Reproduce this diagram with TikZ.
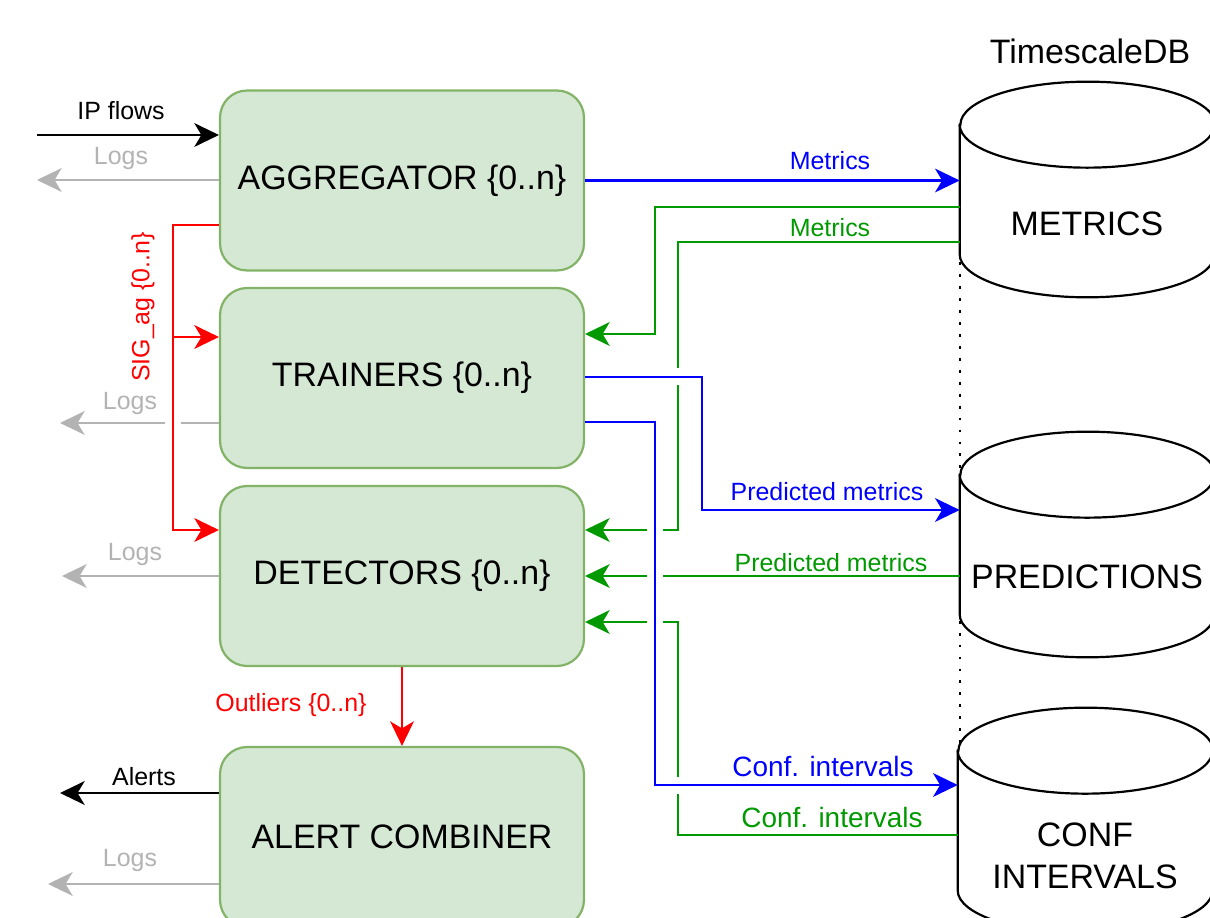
\documentclass[tikz,border=0pt]{standalone}
\usepackage{fontspec}
\setmainfont{Liberation Sans}
\usetikzlibrary{calc, positioning, arrows.meta}
\definecolor{boxfill}{HTML}{D5E8D4}
\definecolor{boxline}{HTML}{82B366}
\definecolor{flowBlue}{RGB}{0,0,255}
\definecolor{flowGreen}{RGB}{0,153,0}
\definecolor{flowRed}{RGB}{255,0,0}
\definecolor{logGrey}{RGB}{179,179,179}

\begin{document}
\begin{tikzpicture}[
  x=0.02cm, y=0.02cm,
  >={Stealth[length=14pt, width=13.5pt, inset=4pt]},
  big/.style={font=\fontsize{19.3}{23.8}\selectfont},
  lbl/.style={font=\fontsize{14.2}{17}\selectfont, inner sep=0pt},
  lblc/.style={font=\fontsize{15.9}{19}\selectfont, inner sep=0pt},
  box/.style={draw=boxline, fill=boxfill, line width=1.25pt, rounded corners=0.54cm, minimum width=7.28cm, minimum height=3.6cm, big},
  db/.style={draw, line width=1.25pt, fill=white},
  dbbox/.style={inner sep=0pt, minimum width=5.1cm, minimum height=4.5cm},
  flow/.style={line width=1.3pt, ->},
  blu/.style={flow, draw=flowBlue},
  grn/.style={flow, draw=flowGreen},
  sig/.style={flow, draw=flowRed},
  logs/.style={flow, draw=logGrey},
  blk/.style={flow, draw=black}
]
\useasboundingbox (0,0) rectangle (1210,-918);

\node[box] (agg) at (402,-180.5) {AGGREGATOR \{0..n\}};
\node[box] (trn) at (402,-378) {TRAINERS \{0..n\}};
\node[box] (det) at (402,-576) {DETECTORS \{0..n\}};
\node[box] (alc) at (402,-837) {ALERT COMBINER};

\node[dbbox, minimum height=4.3cm] (met) at (1087.5,-189.5) {};
\node[dbbox] (pre) at (1087.5,-544.5) {};
\node[dbbox] (cfi) at (1085.5,-820.5) {};
\foreach \n in {met,pre,cfi} {
  \draw[db] ($(\n.north west)+(0,-43)$) -- ($(\n.south west)+(0,43)$)
    arc[start angle=180, end angle=360, x radius=2.55cm, y radius=0.86cm]
    -- ($(\n.north east)+(0,-43)$)
    arc[start angle=0, end angle=180, x radius=2.55cm, y radius=0.86cm] -- cycle;
  \draw[db, fill=none] ($(\n.north west)+(0,-43)$)
    arc[start angle=180, end angle=360, x radius=2.55cm, y radius=0.86cm];
}
\node[big] (tsdb) at (1090,-51) {TimescaleDB};
\node[big] (metl) at (1087,-224) {METRICS};
\node[big] (prel) at (1087,-577) {PREDICTIONS};
\node[big, align=center] (cfil) at (1085,-856) {CONF\\INTERVALS};
\draw[line width=1.3pt, dash pattern=on 1.6pt off 5.2pt]
  ($(met.south west)+(0,35)$) -- ($(met.south west |- cfi.north)+(0,-37)$);

\coordinate (ipin) at (37,-135);
\coordinate (lg1) at (37,-180);
\coordinate (lg2) at (60,-423);
\coordinate (lg3) at (62,-576);
\coordinate (lg4) at (48,-884);
\coordinate (alrt) at (60,-793);
\coordinate (sigbus) at (173,-337);

\draw[grn] (met.west |- 0,-207) -| (655,-334) -- (trn.east |- 0,-334);
\draw[grn] (met.west |- 0,-242) -| (678,-530) -- (det.east |- 0,-530);
\draw[grn] (pre.west |- det.east) -- (det.east);
\draw[grn] (cfi.west |- 0,-835) -| (678,-622) -- (det.east |- 0,-622);
\foreach \b/\e in {agg/lg1, trn/lg2, det/lg3, alc/lg4}
  \draw[logs] (\b.west |- \e) -- (\e);

\foreach \cx/\cy in {655/530, 655/576, 655/622, 173/423}
  \fill[white] (\cx-8,-\cy-3) rectangle (\cx+8,-\cy+3);
\foreach \cx/\cy in {678/377, 678/785}
  \fill[white] (\cx-3,-\cy-8.5) rectangle (\cx+3,-\cy+8.5);

\draw[blu] (agg.east) -- (agg.east -| met.west);
\draw[blu] (trn.east |- 0,-377) -| (702,-510) -- (pre.west |- 0,-510);
\draw[blu] (trn.east |- 0,-422) -| (655,-785) -- (cfi.west |- 0,-785);
\draw[sig] ($(agg.west)+(0,-44.5)$) -| (173,-530) -- (det.west |- 0,-530);
\draw[sig] (sigbus) -- (trn.west |- sigbus);
\draw[sig] (det.south) -- (alc.north);
\draw[blk] (ipin) -- (ipin -| agg.west);
\draw[blk] (alc.west |- alrt) -- (alrt);

\node[lbl, text=flowBlue] (lmet1) at (830,-161) {Metrics};
\node[lbl, text=flowGreen] (lmet2) at (830,-228) {Metrics};
\node[lbl, text=flowBlue] (lpre1) at (827,-492) {Predicted metrics};
\node[lbl, text=flowGreen] (lpre2) at (831,-563) {Predicted metrics};
\node[lblc, text=flowBlue] (lcfi1) at (823,-767) {Conf. intervals};
\node[lblc, text=flowGreen] (lcfi2) at (832,-818) {Conf. intervals};
\node[lbl] (lip) at (121,-111) {IP flows};
\foreach \lx/\ly [count=\i] in {121/159, 130/404, 135/555, 130/861}
  \node[lbl, text=logGrey] (llog\i) at (\lx,-\ly) {Logs};
\node[lbl, text=flowRed, rotate=90] (lsig) at (143,-307) {SIG\_ag \{0..n\}};
\node[lbl, text=flowRed] (lout) at (291,-705) {Outliers \{0..n\}};
\node[lbl] (lalr) at (144,-777) {Alerts};
\end{tikzpicture}
\end{document}
